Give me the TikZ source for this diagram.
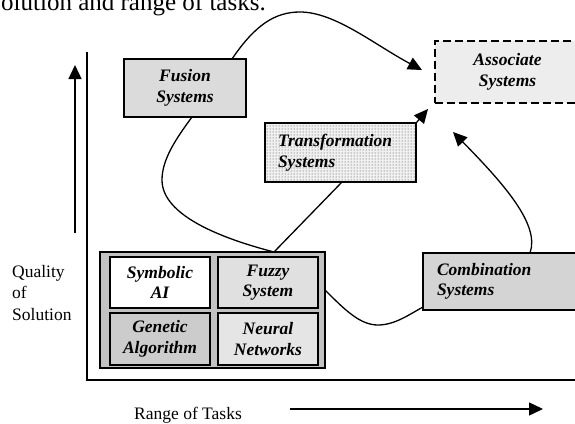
\documentclass[tikz,border=0pt]{standalone}
\usepackage{fontspec}
\setmainfont{Liberation Serif}
\usetikzlibrary{arrows.meta,patterns}
\begin{document}
\begin{tikzpicture}[x=1pt,y=-1pt,
  lab/.style={font=\fontsize{17.5}{20.5}\selectfont\bfseries\itshape},
  box/.style={lab, draw, line width=1.4pt, rectangle, inner sep=0pt, align=center},
  cell/.style={box, line width=2pt, minimum width=100pt, minimum height=51pt},
  conn/.style={line width=1.3pt},
  tip/.style={-{Triangle[length=14pt,width=13pt]}},
  axis/.style={line width=1.4pt},
  plain/.style={font=\fontsize{17.5}{21.5}\selectfont, inner sep=0pt},
]
\clip (0,0) rectangle (575,423);

% caption fragment above the chart
\node[anchor=base west, inner sep=0pt, font=\fontsize{25}{30}\selectfont] (cap) at (1,10.5) {olution and range of tasks.};

% axes
\coordinate (ytop) at (87,52);
\coordinate (orig) at (87,380);
\coordinate (xend) at (578,380);
\draw[axis] (ytop) -- (orig) -- (xend);

% direction arrows
\coordinate (qa) at (75,233);
\coordinate (qb) at (75,65);
\draw[axis, tip] (qa) -- (qb);
\coordinate (ra) at (290,409);
\coordinate (rb) at (543,409);
\draw[axis, tip] (ra) -- (rb);

\node[plain, anchor=west, align=left] (qual) at (12,293) {Quality\\of\\Solution};
\node[plain, anchor=base west] (range) at (134,419) {Range of Tasks};

% system boxes
\node[box, fill=black!14, minimum width=122pt, minimum height=58pt] (fus) at (185,88) {Fusion\\Systems};
\node[box, fill=black!7, dash pattern=on 8pt off 4pt, line width=1.8pt,
      minimum width=145pt, minimum height=62pt] (asc) at (507.5,72) {Associate\\Systems};
\node[box, fill=black!6, postaction={pattern=dots, pattern color=black!75},
      minimum width=151pt, minimum height=59pt, text width=125pt, align=left] (trf) at (340.5,152.5) {Transformation\\Systems};
\node[box, fill=black!17, minimum width=157pt, minimum height=57pt, text width=129pt, align=left] (cmb) at (501.5,281.5) {Combination\\Systems};

% base techniques
\node[box, fill=black!24, minimum width=225pt, minimum height=116pt] (base) at (212.5,310) {};
\node[cell, fill=white] (sym) at (160,282.5) {Symbolic\\AI};
\node[cell, fill=black!12] (fuz) at (268,282.5) {Fuzzy\\System};
\node[cell, fill=black!20, minimum height=52pt] (gen) at (160,339) {Genetic\\Algorithm};
\node[cell, fill=black!10, minimum height=52pt] (neu) at (268,339) {Neural\\Networks};

% connectors
\coordinate (fusA) at (232,59);
\coordinate (fusB) at (192,117);
\coordinate (baseT) at (274,252);
\coordinate (trfB) at (342,182);
\coordinate (ascIn) at (422,70);
\coordinate (ascCorner) at (428,109);
\coordinate (ascUp) at (453,132);
\coordinate (baseR) at (325,290);
\coordinate (cmbL) at (423,307);
\coordinate (cmbT) at (530,253);

\draw[conn, tip] (fusA) .. controls (255,25) and (275,12) .. (300,12)
   .. controls (335,12) and (375,45) .. (ascIn);
\draw[conn] (fusB) .. controls (175,140) and (162,160) .. (162,180)
   .. controls (162,215) and (220,238) .. (baseT);
\draw[conn] (baseT) -- (trfB);
\draw[conn, tip] (trf.north east) -- (ascCorner);
\draw[conn] (baseR) .. controls (345,310) and (360,325) .. (378,325)
   .. controls (395,325) and (410,314) .. (cmbL);
\draw[conn, tip] (cmbT) .. controls (540,225) and (505,185) .. (ascUp);
\end{tikzpicture}
\end{document}
